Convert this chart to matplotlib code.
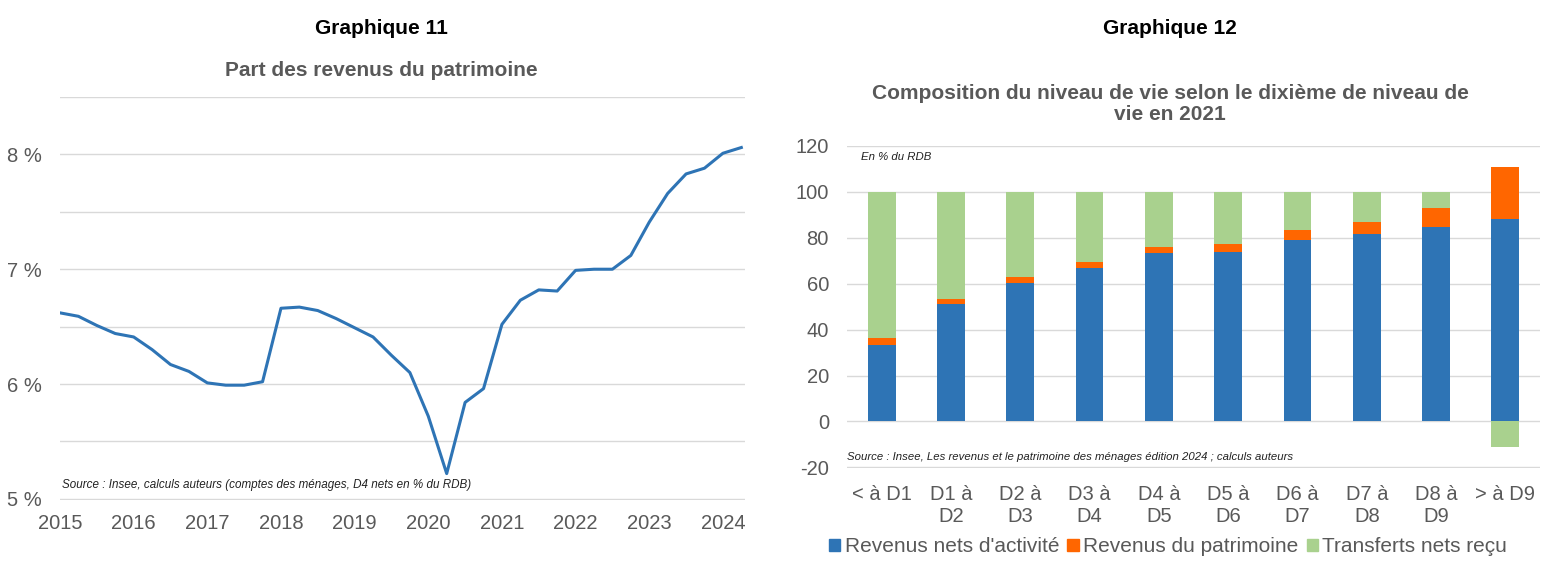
import matplotlib
matplotlib.use("Agg")
import matplotlib.pyplot as plt
from matplotlib.patches import Patch
import numpy as np

plt.rcParams['font.family'] = ['Liberation Sans', 'DejaVu Sans']
plt.rcParams['axes.unicode_minus'] = False

# Graphique 11 : part des revenus du patrimoine (trimestriel, 2015T1 -> 2024T2)
annees = [2015, 2016, 2017, 2018, 2019, 2020, 2021, 2022, 2023, 2024]
part_patrimoine = [6.62, 6.59, 6.51, 6.44, 6.41, 6.30, 6.17, 6.11, 6.01, 5.99,
                   5.99, 6.02, 6.66, 6.67, 6.64, 6.57, 6.49, 6.41, 6.25, 6.10,
                   5.72, 5.22, 5.84, 5.96, 6.52, 6.73, 6.82, 6.81, 6.99, 7.00,
                   7.00, 7.12, 7.41, 7.66, 7.83, 7.88, 8.01, 8.06]

# Graphique 12 : composition du niveau de vie par dixieme
dixiemes = ["< à D1", "D1 à\nD2", "D2 à\nD3", "D3 à\nD4", "D4 à\nD5",
            "D5 à\nD6", "D6 à\nD7", "D7 à\nD8", "D8 à\nD9", "> à D9"]
rev_activite = [33.5, 51.3, 60.3, 66.7, 73.2, 73.6, 79.1, 81.7, 84.9, 88.0]
rev_patrimoine = [2.8, 2.2, 2.5, 2.9, 2.9, 3.8, 4.4, 5.3, 7.9, 22.9]
transferts = [63.7, 46.5, 37.2, 30.5, 23.9, 22.6, 16.5, 13.0, 7.2, -11.2]

BLEU = '#2E74B5'
ORANGE = '#FF6600'
VERT = '#A9D18E'
GRIS = '#595959'
GRILLE = '#D9D9D9'

fig = plt.figure(figsize=(15.6, 5.74), dpi=100)

# ---- graphique de gauche
ax1 = fig.add_axes([60/1560, 74/574, 685/1560, 403/574])
x = np.arange(len(part_patrimoine))
ax1.plot(x, part_patrimoine, color=BLEU, lw=2.2)
ax1.set_xlim(0, 37.2)
ax1.set_ylim(4.99, 8.5)
ax1.set_yticks([5, 6, 7, 8])
ax1.set_yticklabels([f"{v} %" for v in [5, 6, 7, 8]])
ax1.set_yticks([5.5, 6.5, 7.5, 8.5], minor=True)
ax1.set_xticks([4 * i for i in range(len(annees))])
ax1.set_xticklabels([str(a) for a in annees])
ax1.grid(axis='y', which='both', color=GRILLE, lw=1)
ax1.set_axisbelow(True)
for s in ax1.spines.values():
    s.set_visible(False)
ax1.tick_params(axis='both', which='both', length=0, labelsize=14.5, colors=GRIS)
ax1.tick_params(axis='y', pad=13)
ax1.tick_params(axis='x', pad=10)
ax1.text(0.1, 5.12, "Source : Insee, calculs auteurs (comptes des ménages, D4 nets en % du RDB)",
         fontsize=8.4, style='italic', color='#222222', va='center')

fig.text(381/1560, 1 - 28/574, "Graphique 11", ha='center', va='center',
         fontsize=15, fontweight='bold')
fig.text(381/1560, 1 - 70/574, "Part des revenus du patrimoine", ha='center', va='center',
         fontsize=15, fontweight='bold', color=GRIS)

# ---- graphique de droite
ax2 = fig.add_axes([847/1560, 106/574, 693/1560, 322/574])
pos = np.arange(len(dixiemes))
act = np.array(rev_activite)
pat = np.array(rev_patrimoine)
tra = np.array(transferts)
w = 0.4
ax2.bar(pos, act, w, color=BLEU, label="Revenus nets d'activité")
ax2.bar(pos, pat, w, bottom=act, color=ORANGE, label="Revenus du patrimoine")
ax2.bar(pos, tra, w, bottom=np.where(tra > 0, act + pat, 0), color=VERT,
        label="Transferts nets reçu")
ax2.set_xlim(-0.5, len(dixiemes) - 0.5)
ax2.set_ylim(-20.3, 120)
ax2.set_yticks(range(-20, 121, 20))
ax2.set_xticks(pos)
ax2.set_xticklabels(dixiemes)
ax2.grid(axis='y', color=GRILLE, lw=1)
ax2.set_axisbelow(True)
for s in ax2.spines.values():
    s.set_visible(False)
ax2.tick_params(axis='both', length=0, labelsize=14.5, colors=GRIS)
ax2.tick_params(axis='y', pad=13)
ax2.tick_params(axis='x', pad=12)
ax2.text(-0.3, 115, "En % du RDB", fontsize=8.2, style='italic', color='#222222', va='center')
ax2.text(-0.5, -15.5, "Source : Insee, Les revenus et le patrimoine des ménages édition 2024 ; calculs auteurs",
         fontsize=8.2, style='italic', color='#222222', va='center')

fig.text(1170/1560, 1 - 28/574, "Graphique 12", ha='center', va='center',
         fontsize=15, fontweight='bold')
fig.text(1170/1560, 1 - 104/574,
         "Composition du niveau de vie selon le dixième de niveau de\nvie en 2021",
         ha='center', va='center', fontsize=15, fontweight='bold', color=GRIS,
         linespacing=1.15)

handles = [Patch(color=BLEU), Patch(color=ORANGE), Patch(color=VERT)]
fig.legend(handles, ["Revenus nets d'activité", "Revenus du patrimoine", "Transferts nets reçu"],
           loc='center', bbox_to_anchor=(1168/1560, 1 - 547/574), ncol=3, frameon=False,
           fontsize=15, handlelength=0.55, handleheight=0.55, handletextpad=0.2,
           columnspacing=0.4, labelcolor=GRIS)

fig.savefig("out.png", dpi=100)
